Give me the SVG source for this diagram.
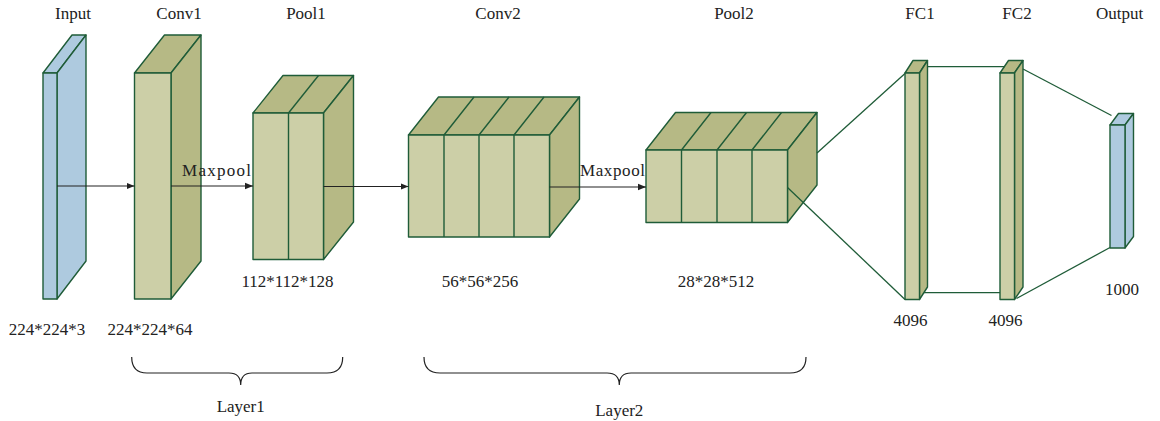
<svg xmlns="http://www.w3.org/2000/svg" width="1160" height="421" viewBox="0 0 1160 421">
<defs>
<style>
.fb{fill:#aecadf;stroke:#1f5c38;stroke-width:1.4;stroke-linejoin:round}
.sb{fill:#aecadf;stroke:#1f5c38;stroke-width:1.4;stroke-linejoin:round}
.fg{fill:#cccfa7;stroke:#1f5c38;stroke-width:1.4;stroke-linejoin:round}
.sg{fill:#b6b985;stroke:#1f5c38;stroke-width:1.4;stroke-linejoin:round}
.dv{stroke:#1f5c38;stroke-width:1.4;fill:none}
.t{font-family:"Liberation Serif","Times New Roman",serif;font-size:17px;fill:#222;text-anchor:middle}
.ar{stroke:#222;stroke-width:1.2;fill:none;marker-end:url(#ah)}
.gl{stroke:#1f5c38;stroke-width:1.3;fill:none}
.br{stroke:#222;stroke-width:1.2;fill:none}
</style>
<marker id="ah" viewBox="0 0 10 10" refX="10" refY="5" markerWidth="8" markerHeight="8" markerUnits="userSpaceOnUse" orient="auto">
<path d="M0,1 L10,5 L0,9 z" fill="#222"/>
</marker>
</defs>

<g id="input">
<polygon class="sb" points="43,73 57,73 86,35 72,35"/>
<polygon class="sb" points="57,73 86,35 86,261 57,299"/>
<rect class="fb" x="43" y="73" width="14" height="226"/>
</g>

<g id="conv1">
<polygon class="sg" points="134.5,73 171,73 201,35 164.5,35"/>
<polygon class="sg" points="171,73 201,35 201,261 171,299"/>
<rect class="fg" x="134.5" y="73" width="36.5" height="226"/>
</g>

<g id="pool1">
<polygon class="sg" points="253,113 323.5,113 353.5,75.5 283,75.5"/>
<polygon class="sg" points="323.5,113 353.5,75.5 353.5,222 323.5,259.5"/>
<rect class="fg" x="253" y="113" width="70.5" height="146.5"/>
<line class="dv" x1="288.5" y1="113" x2="288.5" y2="259.5"/>
<line class="dv" x1="288.5" y1="113" x2="318.5" y2="75.5"/>
</g>

<g id="conv2">
<polygon class="sg" points="408.5,135 549.5,135 579.5,97 438.5,97"/>
<polygon class="sg" points="549.5,135 579.5,97 579.5,199 549.5,237"/>
<rect class="fg" x="408.5" y="135" width="141" height="102"/>
<path class="dv" d="M444,135 V237 M479,135 V237 M514,135 V237 M444,135 L474,97 M479,135 L509,97 M514,135 L544,97"/>
</g>

<g id="pool2">
<polygon class="sg" points="646,150 787.5,150 817,112.5 675.5,112.5"/>
<polygon class="sg" points="787.5,150 817,112.5 817,185 787.5,222.5"/>
<rect class="fg" x="646" y="150" width="141.5" height="72.5"/>
<path class="dv" d="M681.5,150 V222.5 M717,150 V222.5 M752,150 V222.5 M681.5,150 L711,112.5 M717,150 L746.5,112.5 M752,150 L781.5,112.5"/>
</g>

<g id="fc1">
<polygon class="sg" points="905,73 919.5,73 927.5,60.5 913,60.5"/>
<polygon class="sg" points="919.5,73 927.5,60.5 927.5,287 919.5,299.5"/>
<rect class="fg" x="905" y="73" width="14.5" height="226.5"/>
</g>

<g id="fc2">
<polygon class="sg" points="1000,73 1014.5,73 1023,60.5 1008.5,60.5"/>
<polygon class="sg" points="1014.5,73 1023,60.5 1023,287 1014.5,299.5"/>
<rect class="fg" x="1000" y="73" width="14.5" height="226.5"/>
</g>

<g id="output">
<polygon class="sb" points="1110,125 1125,125 1133.5,113.5 1118.5,113.5"/>
<polygon class="sb" points="1125,125 1133.5,113.5 1133.5,236.5 1125,248"/>
<rect class="fb" x="1110" y="125" width="15" height="123"/>
</g>

<g id="connectors">
<line class="ar" x1="57" y1="186" x2="134.5" y2="186"/>
<line class="ar" x1="171" y1="186" x2="253" y2="186"/>
<line class="ar" x1="323.5" y1="186.5" x2="408.5" y2="186.5"/>
<line class="ar" x1="549.5" y1="187" x2="646" y2="187"/>
<line class="gl" x1="817" y1="153" x2="905" y2="73.5"/>
<line class="gl" x1="787.5" y1="187.5" x2="905" y2="299.5"/>
<line class="gl" x1="927.5" y1="66.7" x2="1004.5" y2="66.7"/>
<line class="gl" x1="924" y1="292.7" x2="1000" y2="292.7"/>
<line class="gl" x1="1023" y1="69" x2="1111.5" y2="115.5"/>
<line class="gl" x1="1016.5" y1="298.5" x2="1110" y2="247.5"/>
</g>

<g id="braces">
<path class="br" d="M131.7,357 Q131.7,373 147,373 L229,373 Q240.7,373 240.7,385 Q240.7,373 252,373 L327,373 Q342.7,373 342.7,357"/>
<path class="br" d="M424,357 Q424,373 440,373 L607,373 Q619.3,373 619.3,385 Q619.3,373 631,373 L790,373 Q806,373 806,357"/>
</g>

<g id="labels">
<text class="t" x="73" y="19">Input</text>
<text class="t" x="179" y="19">Conv1</text>
<text class="t" x="306" y="19">Pool1</text>
<text class="t" x="498" y="19">Conv2</text>
<text class="t" x="734" y="19">Pool2</text>
<text class="t" x="920" y="19">FC1</text>
<text class="t" x="1017" y="19">FC2</text>
<text class="t" x="1119.5" y="19">Output</text>
<text class="t" x="216.5" y="175.5" textLength="69">Maxpool</text>
<text class="t" x="612.5" y="175.5" textLength="65">Maxpool</text>
<text class="t" x="47" y="335">224*224*3</text>
<text class="t" x="150" y="335">224*224*64</text>
<text class="t" x="287.5" y="286.5">112*112*128</text>
<text class="t" x="480" y="286.5">56*56*256</text>
<text class="t" x="716" y="286.5">28*28*512</text>
<text class="t" x="910.5" y="325.5">4096</text>
<text class="t" x="1005.5" y="325.5">4096</text>
<text class="t" x="1122" y="295">1000</text>
<text class="t" x="240.7" y="411.5">Layer1</text>
<text class="t" x="619.3" y="416">Layer2</text>
</g>
</svg>
